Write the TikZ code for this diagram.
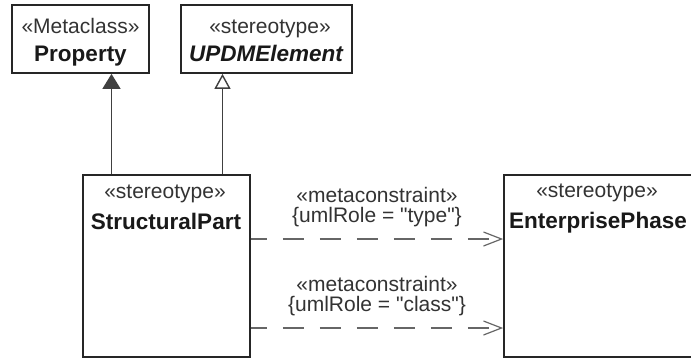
\documentclass[tikz,border=0pt]{standalone}
\usepackage{fontspec}
\setmainfont{Liberation Sans}
\usetikzlibrary{arrows.meta}

\begin{document}
\begin{tikzpicture}[
	x=1pt, y=-1pt,
	box/.style={
		draw=black!85, line width=1.7pt, inner sep=0pt
	},
	stereo/.style={anchor=base, inner sep=0pt, text=black!80, font=\fontsize{21}{24}\selectfont},
	cname/.style={anchor=base, inner sep=0pt, text=black!90, font=\fontsize{22.5}{26}\selectfont\bfseries},
	gen/.style={line width=1.4pt, draw=black!75},
	dep/.style={-{Straight Barb[length=18pt, width=14pt]}, line width=1.2pt, draw=black!60,
		dash pattern=on 21pt off 16pt, dash phase=5pt},
	lbl/.style={inner sep=0pt, align=center, text=black!80, font=\fontsize{21}{20}\selectfont}
]
\clip (0,0) rectangle (691,360);
\fill[white] (0,0) rectangle (691,360);

\node[box, minimum width=137pt, minimum height=68pt]  (property) at (80.5, 39)  {};
\node[box, minimum width=171pt, minimum height=68pt]  (updm)     at (266.5, 39) {};
\node[box, minimum width=167pt, minimum height=182pt] (part)     at (166.5, 266) {};
\node[box, minimum width=200pt, minimum height=182pt] (phase)    at (604, 266)  {};

\node[stereo] (propertyst) at (80.5, 33) {«Metaclass»};
\node[cname]  (propertynm) at (80.5, 61) {Property};
\node[stereo] (updmst)     at (270, 33)  {«stereotype»};
\node[cname]  (updmnm)     at (266, 61)  {\itshape UPDMElement};
\node[stereo] (partst)     at (165, 198) {«stereotype»};
\node[cname]  (partnm)     at (166, 229) {StructuralPart};
\node[stereo] (phasest)    at (597, 197) {«stereotype»};
\node[cname]  (phasenm)    at (598, 228) {EnterprisePhase};

\draw[gen, -{Triangle[width=18pt, length=15pt, fill=black!75]}]
	([xshift=-55pt]part.north) -- ([xshift=-55pt]part.north |- property.south);
\draw[gen, -{Triangle[width=16pt, length=15pt, fill=white]}]
	([xshift=56pt]part.north) -- ([xshift=56pt]part.north |- updm.south);

\draw[dep] ([yshift=27pt]part.east) -- node[lbl, above=12pt] {«metaconstraint»\\\{umlRole = \textquotedbl type\textquotedbl\}} ([yshift=27pt]phase.west);
\draw[dep] ([yshift=-62pt]part.east) -- node[lbl, above=12pt] {«metaconstraint»\\\{umlRole = \textquotedbl class\textquotedbl\}} ([yshift=-62pt]phase.west);

\end{tikzpicture}
\end{document}
